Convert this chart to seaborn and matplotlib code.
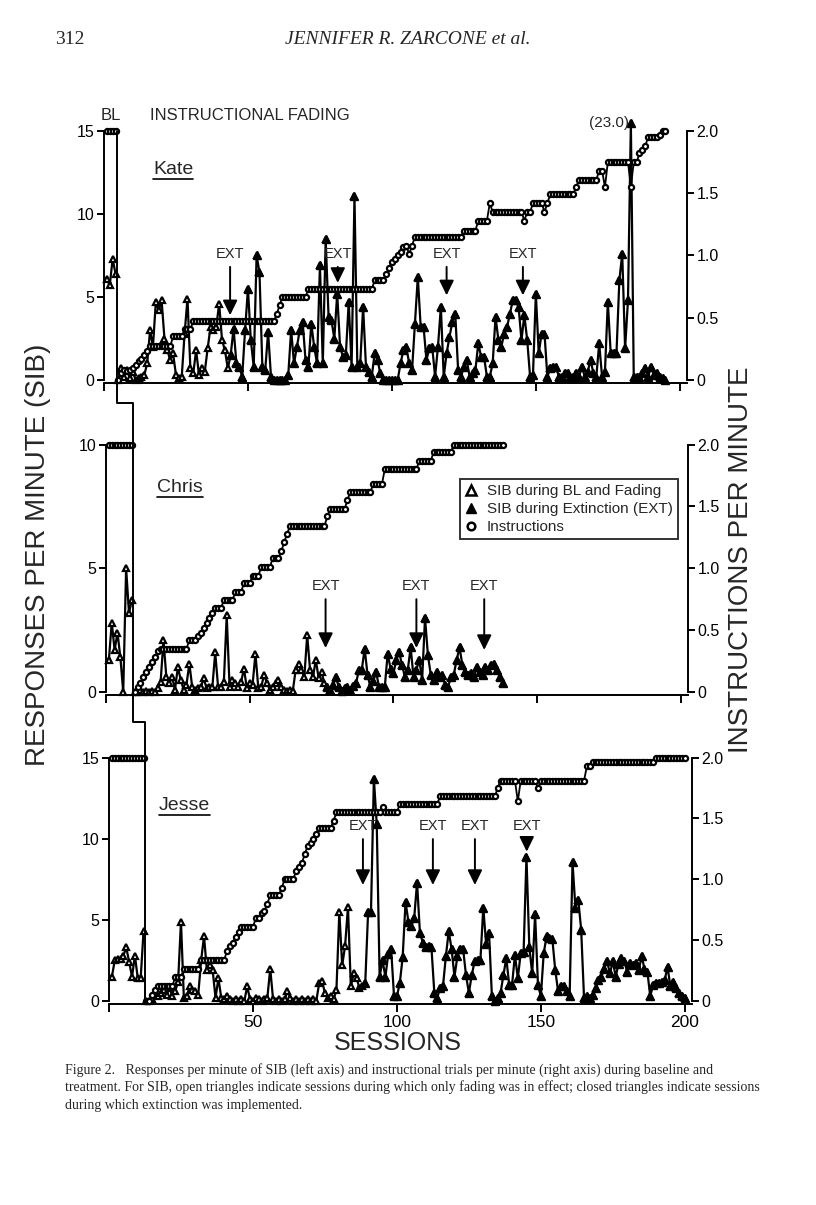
import numpy as np
import matplotlib
matplotlib.use("Agg")
import matplotlib.pyplot as plt
import seaborn as sns
from matplotlib.lines import Line2D

W, H = 816, 1205

# ----------------------------------------------------------------------
# Data (SIB in responses/min, instructions per min)
# BL lists hold the baseline sessions, the other lists start right after
# ----------------------------------------------------------------------
KATE_BL_SIB = [6.1, 5.7, 7.3, 6.4]
KATE_SIB = [
    0.0, 0.7, 0.2, 0.6, 0.1, 0.5, 0.0, 0.1, 0.2, 0.3,
    1.0, 3.0, 2.0, 4.7, 4.2, 4.8, 2.5, 1.8, 1.2, 1.6,
    0.3, 0.1, 0.2, 2.8, 4.9, 0.7, 0.4, 1.8, 0.3, 0.7,
    0.5, 1.9, 3.2, 3.0, 3.2, 4.6, 2.4, 1.8, 0.7, 1.5,
    3.1, 1.0, 0.8, 0.2, 3.0, 5.5, 2.4, 0.8, 7.5, 6.5,
    0.8, 0.6, 2.9, 0.2, 0.0, 0.0, 0.0, 0.0, 0.0, 0.3,
    3.0, 1.0, 2.0, 3.0, 3.5, 1.2, 0.8, 3.4, 2.0, 1.0,
    6.9, 1.0, 8.5, 3.8, 3.6, 2.5, 5.2, 2.0, 1.4, 1.5,
    4.7, 0.8, 11.1, 0.8, 1.0, 4.4, 0.8, 0.5, 0.2, 1.6,
    1.2, 0.4, 0.0, 0.0, 0.0, 0.0, 0.0, 0.0, 1.0, 1.8,
    2.0, 1.0, 0.6, 3.4, 6.2, 3.2, 3.2, 1.2, 1.9, 2.0,
    0.2, 2.0, 4.4, 0.2, 1.6, 2.6, 3.5, 4.0, 0.6, 0.2,
    0.8, 1.2, 0.2, 0.4, 0.6, 2.2, 1.4, 1.4, 0.2, 0.2,
    1.0, 3.8, 2.4, 2.0, 2.8, 3.2, 4.0, 4.8, 4.8, 4.4,
    2.4, 3.9, 2.4, 0.2, 0.3, 5.2, 1.6, 2.8, 2.8, 0.2,
    0.7, 0.8, 0.8, 0.2, 0.2, 0.4, 0.4, 0.2, 0.2, 0.4,
    0.2, 0.8, 0.2, 0.5, 1.2, 0.4, 0.2, 2.2, 0.2, 0.5,
    4.7, 1.6, 1.6, 1.6, 6.0, 7.6, 1.9, 4.8, 23.0, 0.2,
    0.2, 0.2, 0.4, 0.7, 0.2, 0.8, 0.3, 0.4, 0.2, 0.1, 0.0,
]
KATE_BL_INST = [2.0, 2.0, 2.0, 2.0]
KATE_INST = [
    0.0, 0.06, 0.08, 0.07, 0.08, 0.1, 0.12, 0.15, 0.17, 0.2,
    0.23, 0.27, 0.27, 0.27, 0.27, 0.27, 0.27, 0.27, 0.27, 0.35,
    0.35, 0.35, 0.35, 0.41, 0.41, 0.41, 0.47, 0.47, 0.47, 0.47,
    0.47, 0.47, 0.47, 0.47, 0.47, 0.47, 0.47, 0.47, 0.47, 0.47,
    0.47, 0.47, 0.47, 0.47, 0.47, 0.47, 0.47, 0.47, 0.47, 0.47,
    0.47, 0.47, 0.47, 0.47, 0.47, 0.53, 0.6, 0.67, 0.67, 0.67,
    0.67, 0.67, 0.67, 0.67, 0.67, 0.67, 0.73, 0.73, 0.73, 0.73,
    0.73, 0.73, 0.73, 0.73, 0.73, 0.73, 0.73, 0.73, 0.73, 0.73,
    0.73, 0.73, 0.73, 0.73, 0.73, 0.73, 0.73, 0.73, 0.73, 0.8,
    0.8, 0.8, 0.8, 0.85, 0.9, 0.95, 0.97, 1.0, 1.03, 1.07,
    1.08, 1.01, 1.08, 1.15, 1.15, 1.15, 1.15, 1.15, 1.15, 1.15,
    1.15, 1.15, 1.15, 1.15, 1.15, 1.15, 1.15, 1.15, 1.15, 1.15,
    1.2, 1.2, 1.2, 1.2, 1.2, 1.28, 1.28, 1.28, 1.28, 1.42,
    1.35, 1.35, 1.35, 1.35, 1.35, 1.35, 1.35, 1.35, 1.35, 1.35,
    1.35, 1.28, 1.35, 1.35, 1.42, 1.42, 1.42, 1.42, 1.35, 1.42,
    1.49, 1.49, 1.49, 1.49, 1.49, 1.49, 1.49, 1.49, 1.49, 1.55,
    1.61, 1.61, 1.61, 1.61, 1.61, 1.61, 1.61, 1.68, 1.68, 1.55,
    1.75, 1.75, 1.75, 1.75, 1.75, 1.75, 1.75, 1.75, 1.55, 1.75,
    1.75, 1.82, 1.85, 1.88, 1.95, 1.95, 1.95, 1.95, 1.97, 2.0, 2.0,
]
KATE_EXT = [43.8, 81.2, 119.0, 145.5]

CHRIS_BL_SIB = [1.3, 2.8, 1.7, 2.4, 1.4, 0.0, 5.0, 3.2, 3.7]
CHRIS_SIB = [
    0.0, 0.0, 0.1, 0.0, 0.05, 0.0, 0.05, 0.0, 0.15, 0.4,
    2.1, 0.6, 0.35, 0.6, 0.1, 1.0, 0.5, 0.1, 0.3, 1.15,
    0.2, 0.1, 0.15, 0.2, 0.55, 0.15, 0.2, 0.2, 1.6, 0.2,
    0.2, 0.4, 3.1, 0.2, 0.5, 0.35, 0.2, 0.4, 0.95, 0.15,
    0.35, 0.3, 1.55, 0.15, 0.2, 0.7, 0.35, 0.1, 0.2, 0.35,
    0.5, 0.2, 0.1, 0.05, 0.1, 0.05, 0.9, 1.15, 0.9, 0.6,
    2.3, 0.9, 0.6, 1.3, 0.55, 0.8, 0.35, 0.2, 0.1, 0.3,
    0.6, 0.2, 0.05, 0.15, 0.2, 0.1, 0.25, 0.35, 0.9, 0.9,
    1.75, 0.7, 0.2, 0.45, 0.8, 0.2, 0.2, 0.2, 1.55, 0.95,
    0.75, 1.3, 1.6, 1.1, 0.6, 0.9, 1.8, 0.6, 0.9, 1.3,
    0.5, 3.0, 1.5, 0.7, 0.5, 0.8, 0.6, 0.7, 0.3, 0.2,
    0.6, 0.7, 1.3, 1.8, 1.1, 0.8, 0.7, 0.75, 0.6, 1.0,
    0.8, 0.7, 1.0, 0.9, 1.1, 1.15, 0.9, 0.6, 0.35,
]
CHRIS_BL_INST = [2.0, 2.0, 2.0, 2.0, 2.0, 2.0, 2.0, 2.0, 2.0]
CHRIS_INST = [
    0.0, 0.04, 0.07, 0.12, 0.16, 0.2, 0.24, 0.28, 0.33, 0.35,
    0.35, 0.35, 0.35, 0.35, 0.35, 0.35, 0.35, 0.35, 0.35, 0.42,
    0.42, 0.42, 0.45, 0.48, 0.52, 0.56, 0.6, 0.64, 0.68, 0.68,
    0.68, 0.74, 0.74, 0.74, 0.74, 0.81, 0.81, 0.81, 0.88, 0.88,
    0.88, 0.94, 0.94, 0.94, 1.01, 1.01, 1.01, 1.01, 1.08, 1.08,
    1.08, 1.14, 1.21, 1.28, 1.34, 1.34, 1.34, 1.34, 1.34, 1.34,
    1.34, 1.34, 1.34, 1.34, 1.34, 1.34, 1.34, 1.42, 1.48, 1.48,
    1.48, 1.48, 1.48, 1.48, 1.55, 1.62, 1.62, 1.62, 1.62, 1.62,
    1.62, 1.62, 1.62, 1.68, 1.68, 1.68, 1.68, 1.8, 1.8, 1.8,
    1.8, 1.8, 1.8, 1.8, 1.8, 1.8, 1.8, 1.8, 1.8, 1.87,
    1.87, 1.87, 1.87, 1.87, 1.94, 1.94, 1.94, 1.94, 1.94, 1.94,
    1.94, 2.0, 2.0, 2.0, 2.0, 2.0, 2.0, 2.0, 2.0, 2.0,
    2.0, 2.0, 2.0, 2.0, 2.0, 2.0, 2.0, 2.0, 2.0,
]
CHRIS_EXT = [76.4, 108.0, 131.6]

JESSE_BL_SIB = [1.5, 2.5, 2.6, 2.6, 2.8, 3.3, 2.4, 1.5, 2.8, 1.4, 1.4, 4.3]
JESSE_SIB = [
    0.0, 0.0, 0.1, 0.5, 0.3, 0.5, 0.7, 0.4, 0.8, 0.3,
    0.6, 1.2, 4.9, 0.2, 0.3, 0.9, 0.7, 0.6, 0.4, 2.5,
    4.0, 1.9, 2.2, 1.9, 0.2, 1.4, 0.2, 0.1, 0.3, 0.1,
    0.0, 0.1, 0.0, 0.1, 0.0, 0.9, 0.1, 0.0, 0.2, 0.1,
    0.0, 0.1, 0.2, 2.0, 0.1, 0.0, 0.1, 0.0, 0.1, 0.6,
    0.2, 0.0, 0.1, 0.0, 0.1, 0.0, 0.1, 0.0, 0.1, 0.0,
    1.1, 1.25, 0.5, 0.2, 0.3, 0.1, 0.7, 5.5, 2.2, 3.4,
    5.8, 0.9, 1.7, 1.4, 0.8, 0.9, 1.1, 5.5, 5.5, 13.7,
    10.9, 1.5, 2.5, 1.5, 2.9, 3.2, 0.3, 0.3, 1.1, 2.7,
    6.1, 4.9, 4.6, 5.1, 7.3, 4.2, 3.6, 3.3, 3.4, 3.3,
    0.5, 0.2, 0.8, 0.9, 2.75, 4.3, 3.2, 1.5, 2.75, 3.2,
    3.2, 1.6, 0.5, 1.6, 2.45, 2.55, 2.5, 5.75, 3.5, 4.2,
    0.3, 0.0, 0.2, 0.5, 1.6, 2.65, 1.0, 1.0, 2.85, 1.4,
    2.95, 3.0, 8.9, 3.3, 1.7, 5.35, 1.0, 0.3, 2.95, 4.0,
    3.9, 3.8, 1.9, 0.6, 0.9, 0.9, 0.6, 0.3, 8.55, 5.75,
    6.25, 4.4, 0.2, 0.3, 0.2, 0.4, 0.8, 1.3, 1.5, 2.0,
    2.45, 1.7, 2.45, 1.5, 2.3, 2.65, 2.45, 1.8, 2.35, 2.25,
    2.35, 1.9, 2.75, 2.0, 1.8, 0.3, 1.0, 1.1, 1.1, 1.2,
    1.3, 2.1, 0.9, 1.2, 0.8, 0.5, 0.3, 0.2,
]
JESSE_BL_INST = [2.0, 2.0, 2.0, 2.0, 2.0, 2.0, 2.0, 2.0, 2.0, 2.0, 2.0, 2.0]
JESSE_INST = [
    0.0, 0.0, 0.05, 0.09, 0.12, 0.12, 0.12, 0.12, 0.12, 0.12,
    0.2, 0.2, 0.2, 0.26, 0.26, 0.26, 0.26, 0.26, 0.26, 0.34,
    0.34, 0.34, 0.34, 0.34, 0.34, 0.34, 0.34, 0.34, 0.41, 0.45,
    0.48, 0.53, 0.57, 0.61, 0.61, 0.61, 0.61, 0.61, 0.68, 0.68,
    0.72, 0.74, 0.8, 0.87, 0.87, 0.87, 0.87, 0.93, 1.0, 1.0,
    1.0, 1.0, 1.07, 1.1, 1.13, 1.21, 1.27, 1.3, 1.33, 1.37,
    1.42, 1.42, 1.42, 1.42, 1.42, 1.48, 1.55, 1.55, 1.55, 1.55,
    1.55, 1.55, 1.55, 1.55, 1.55, 1.55, 1.55, 1.55, 1.55, 1.55,
    1.55, 1.55, 1.59, 1.55, 1.55, 1.55, 1.55, 1.55, 1.62, 1.62,
    1.62, 1.62, 1.62, 1.62, 1.62, 1.62, 1.62, 1.62, 1.62, 1.62,
    1.62, 1.62, 1.68, 1.68, 1.68, 1.68, 1.68, 1.68, 1.68, 1.68,
    1.68, 1.68, 1.68, 1.68, 1.68, 1.68, 1.68, 1.68, 1.68, 1.68,
    1.68, 1.68, 1.75, 1.81, 1.81, 1.81, 1.81, 1.81, 1.81, 1.64,
    1.81, 1.81, 1.81, 1.81, 1.81, 1.81, 1.75, 1.81, 1.81, 1.81,
    1.81, 1.81, 1.81, 1.81, 1.81, 1.81, 1.81, 1.81, 1.81, 1.81,
    1.81, 1.81, 1.81, 1.93, 1.93, 1.96, 1.96, 1.96, 1.96, 1.96,
    1.96, 1.96, 1.96, 1.96, 1.96, 1.96, 1.96, 1.96, 1.96, 1.96,
    1.96, 1.96, 1.96, 1.96, 1.96, 1.96, 1.96, 2.0, 2.0, 2.0,
    2.0, 2.0, 2.0, 2.0, 2.0, 2.0, 2.0, 2.0,
]
JESSE_EXT = [88.2, 112.5, 127.1, 145.1]

KATE_CLIP = 15.5   # the (23.0) session is drawn cut off at the top

CAPTION = [
    "Figure 2.   Responses per minute of SIB (left axis) and instructional trials per minute (right axis) during baseline and",
    "treatment. For SIB, open triangles indicate sessions during which only fading was in effect; closed triangles indicate sessions",
    "during which extinction was implemented.",
]

# ----------------------------------------------------------------------
sns.set_theme(style="ticks", rc={
    "axes.linewidth": 1.4,
    "xtick.major.width": 1.4, "ytick.major.width": 1.4,
    "xtick.major.size": 6, "ytick.major.size": 5,
    "xtick.color": "black", "ytick.color": "black",
    "axes.edgecolor": "black",
})
plt.rcParams["font.family"] = ["Liberation Sans", "DejaVu Sans"]
SERIF = ["Liberation Serif", "DejaVu Serif"]


def px(x, y):
    return x / W, 1 - y / H


panels = [
    dict(name="Kate", bl_sib=KATE_BL_SIB, sib=KATE_SIB, bl_inst=KATE_BL_INST,
         inst=KATE_INST, ext=KATE_EXT, box=(104, 118, 687, 383),
         ylim=(-0.18, 15.78), ymax=15, ext_y=7.6, ext_end=[3.9, 5.85, 5.1, 5.1],
         name_xy=(153, 169)),
    dict(name="Chris", bl_sib=CHRIS_BL_SIB, sib=CHRIS_SIB, bl_inst=CHRIS_BL_INST,
         inst=CHRIS_INST, ext=CHRIS_EXT, box=(106, 430, 688, 695),
         ylim=(-0.12, 10.59), ymax=10, ext_y=4.28, ext_end=[1.78, 1.78, 1.7],
         name_xy=(157, 487)),
    dict(name="Jesse", bl_sib=JESSE_BL_SIB, sib=JESSE_SIB, bl_inst=JESSE_BL_INST,
         inst=JESSE_INST, ext=JESSE_EXT, box=(109, 745, 692, 1004),
         ylim=(-0.18, 15.77), ymax=15, ext_y=10.78, ext_end=[7.15, 7.15, 7.15, 9.2],
         name_xy=(159, 805)),
]

fig = plt.figure(figsize=(W / 100, H / 100), dpi=100)
fig.patch.set_facecolor("white")

tri = dict(marker="^", ms=4.6, mec="black", mew=1.6, mfc="white", clip_on=False)
circ = dict(marker="o", ms=3.7, mec="black", mew=1.6, mfc="white", clip_on=False)

for i, p in enumerate(panels):
    l, t, r, b = p["box"]
    ax = fig.add_axes([l / W, 1 - b / H, (r - l) / W, (b - t) / H])
    ax.patch.set_visible(False)
    ax2 = ax.twinx()
    ax2.patch.set_visible(False)
    ratio = p["ymax"] / 2.0

    n_bl = len(p["bl_sib"])
    x_bl = np.arange(1, n_bl + 1)
    x_tr = np.arange(n_bl + 1, n_bl + 1 + len(p["sib"]))
    x_in = np.arange(n_bl + 1, n_bl + 1 + len(p["inst"]))
    sib = np.minimum(np.array(p["sib"]), KATE_CLIP)

    # SIB (left axis)
    sns.lineplot(x=x_bl, y=p["bl_sib"], ax=ax, color="black", lw=1.6, **tri)
    sns.lineplot(x=x_tr, y=sib, ax=ax, color="black", lw=1.6, **tri)
    on_ext = x_tr >= p["ext"][0]
    ax.plot(x_tr[on_ext], sib[on_ext], ls="none", marker="^", ms=5.5,
            color="black", clip_on=False, zorder=3)

    # instructions (right axis)
    sns.lineplot(x=x_bl, y=p["bl_inst"], ax=ax2, color="black", lw=1.3, **circ)
    sns.lineplot(x=x_in, y=p["inst"], ax=ax2, color="black", lw=1.3, **circ)

    ax.set_xlim(0, 202.5)
    ax.set_ylim(*p["ylim"])
    ax2.set_ylim(p["ylim"][0] / ratio, p["ylim"][1] / ratio)
    for a in (ax, ax2):
        a.set_xlabel("")
        a.set_ylabel("")

    ax.spines["top"].set_visible(False)
    ax.spines["right"].set_visible(False)
    ax.spines["left"].set_bounds(0, p["ymax"])
    for s in ("top", "left", "bottom"):
        ax2.spines[s].set_visible(False)
    ax2.spines["right"].set_bounds(0, 2)

    ax.set_yticks(np.arange(0, p["ymax"] + 1, 5))
    ax.set_yticklabels([str(v) for v in np.arange(0, p["ymax"] + 1, 5)])
    ax2.set_yticks([0, 0.5, 1.0, 1.5, 2.0])
    ax2.set_yticklabels(["0", "0.5", "1.0", "1.5", "2.0"])
    ax.tick_params(axis="y", labelsize=11.5, pad=2)
    ax2.tick_params(axis="y", labelsize=11.5, pad=2)
    ax.set_xticks([0, 50, 100, 150, 200])
    if i == len(panels) - 1:
        ax.set_xticklabels(["", "50", "100", "150", "200"])
        ax.tick_params(axis="x", labelsize=12.5, pad=2)
    else:
        ax.set_xticklabels([])

    # EXT arrows
    for sx, y_end in zip(p["ext"], p["ext_end"]):
        ax.annotate("EXT", xy=(sx, y_end), xytext=(sx, p["ext_y"]),
                    ha="center", va="center", fontsize=10.5,
                    arrowprops=dict(arrowstyle="-|>,head_length=0.45,head_width=0.22",
                                    mutation_scale=20, lw=1.4, color="black",
                                    shrinkA=2, shrinkB=0))

    if p["name"] == "Kate":
        k = int(np.argmax(p["sib"]))
        ax.text(x_tr[k] - 0.6, KATE_CLIP, "(%.1f)" % p["sib"][k], ha="right",
                va="center", fontsize=11)

    p["ax"], p["ax2"] = ax, ax2

# legend in Chris' panel
handles = [
    Line2D([], [], ls="none", marker="^", ms=6.5, mfc="white", mec="black", mew=1.8),
    Line2D([], [], ls="none", marker="^", ms=6.5, mfc="black", mec="black"),
    Line2D([], [], ls="none", marker="o", ms=5.5, mfc="white", mec="black", mew=1.8),
]
leg = panels[1]["ax2"].legend(
    handles, ["SIB during BL and Fading", "SIB during Extinction (EXT)", "Instructions"],
    loc="upper left", bbox_to_anchor=px(460, 479), bbox_transform=fig.transFigure,
    frameon=True, fancybox=False, edgecolor="black", fontsize=11,
    handlelength=0.8, handletextpad=0.6, labelspacing=0.25, borderpad=0.35,
    borderaxespad=0)
leg.get_frame().set_linewidth(1.4)

# phase-change line running through the three panels
kate, chris, jesse = panels
kx = len(kate["bl_sib"]) + 0.5
cx = len(chris["bl_sib"]) + 0.5
jx = len(jesse["bl_sib"]) + 0.5
k_top = kate["ax"].transData.transform((kx, kate["ymax"]))
k_jog = kate["ax"].transData.transform((kx, -1.4))
c_col = chris["ax"].transData.transform((cx, 0))
c_jog = chris["ax"].transData.transform((cx, -1.21))
j_bot = jesse["ax"].transData.transform((jx, jesse["ylim"][0]))
pts = np.array([k_top, k_jog, (c_col[0], k_jog[1]), (c_col[0], c_jog[1]),
                (j_bot[0], c_jog[1]), j_bot])
pts = fig.transFigure.inverted().transform(pts)
fig.add_artist(Line2D(pts[:, 0], pts[:, 1], transform=fig.transFigure,
                      color="black", lw=1.4))

# panel names (underlined)
name_texts = []
for p in panels:
    name_texts.append(fig.text(*px(*p["name_xy"]), p["name"], fontsize=14,
                               ha="left", va="center"))

# page header, phase labels, axis titles, caption
fig.text(*px(55, 40), "312", fontsize=14, family=SERIF, ha="left", va="center")
fig.text(*px(408, 40), "JENNIFER R. ZARCONE et al.", fontsize=14, family=SERIF,
         style="italic", ha="center", va="center")
fig.text(*px(101, 115), "BL", fontsize=12, ha="left", va="center")
fig.text(*px(150, 115), "INSTRUCTIONAL FADING", fontsize=12, ha="left", va="center")
fig.text(*px(38, 555), "RESPONSES PER MINUTE (SIB)", fontsize=20, rotation=90,
         ha="center", va="center")
fig.text(*px(741, 560), "INSTRUCTIONS PER MINUTE", fontsize=20, rotation=90,
         ha="center", va="center")
fig.text(*px(398, 1043), "SESSIONS", fontsize=18, ha="center", va="center")
for j, line in enumerate(CAPTION):
    fig.text(*px(65, 1070 + 17.5 * j), line, fontsize=10, family=SERIF,
             ha="left", va="center")

fig.canvas.draw()
inv = fig.transFigure.inverted()
for t in name_texts:
    bb = t.get_window_extent()
    (x0, y0), (x1, _) = inv.transform([(bb.x0, bb.y0 - 1), (bb.x1, bb.y0 - 1)])
    fig.add_artist(Line2D([x0, x1], [y0, y0], transform=fig.transFigure,
                          color="black", lw=1.2))

fig.savefig("out.png", dpi=100, facecolor="white")
